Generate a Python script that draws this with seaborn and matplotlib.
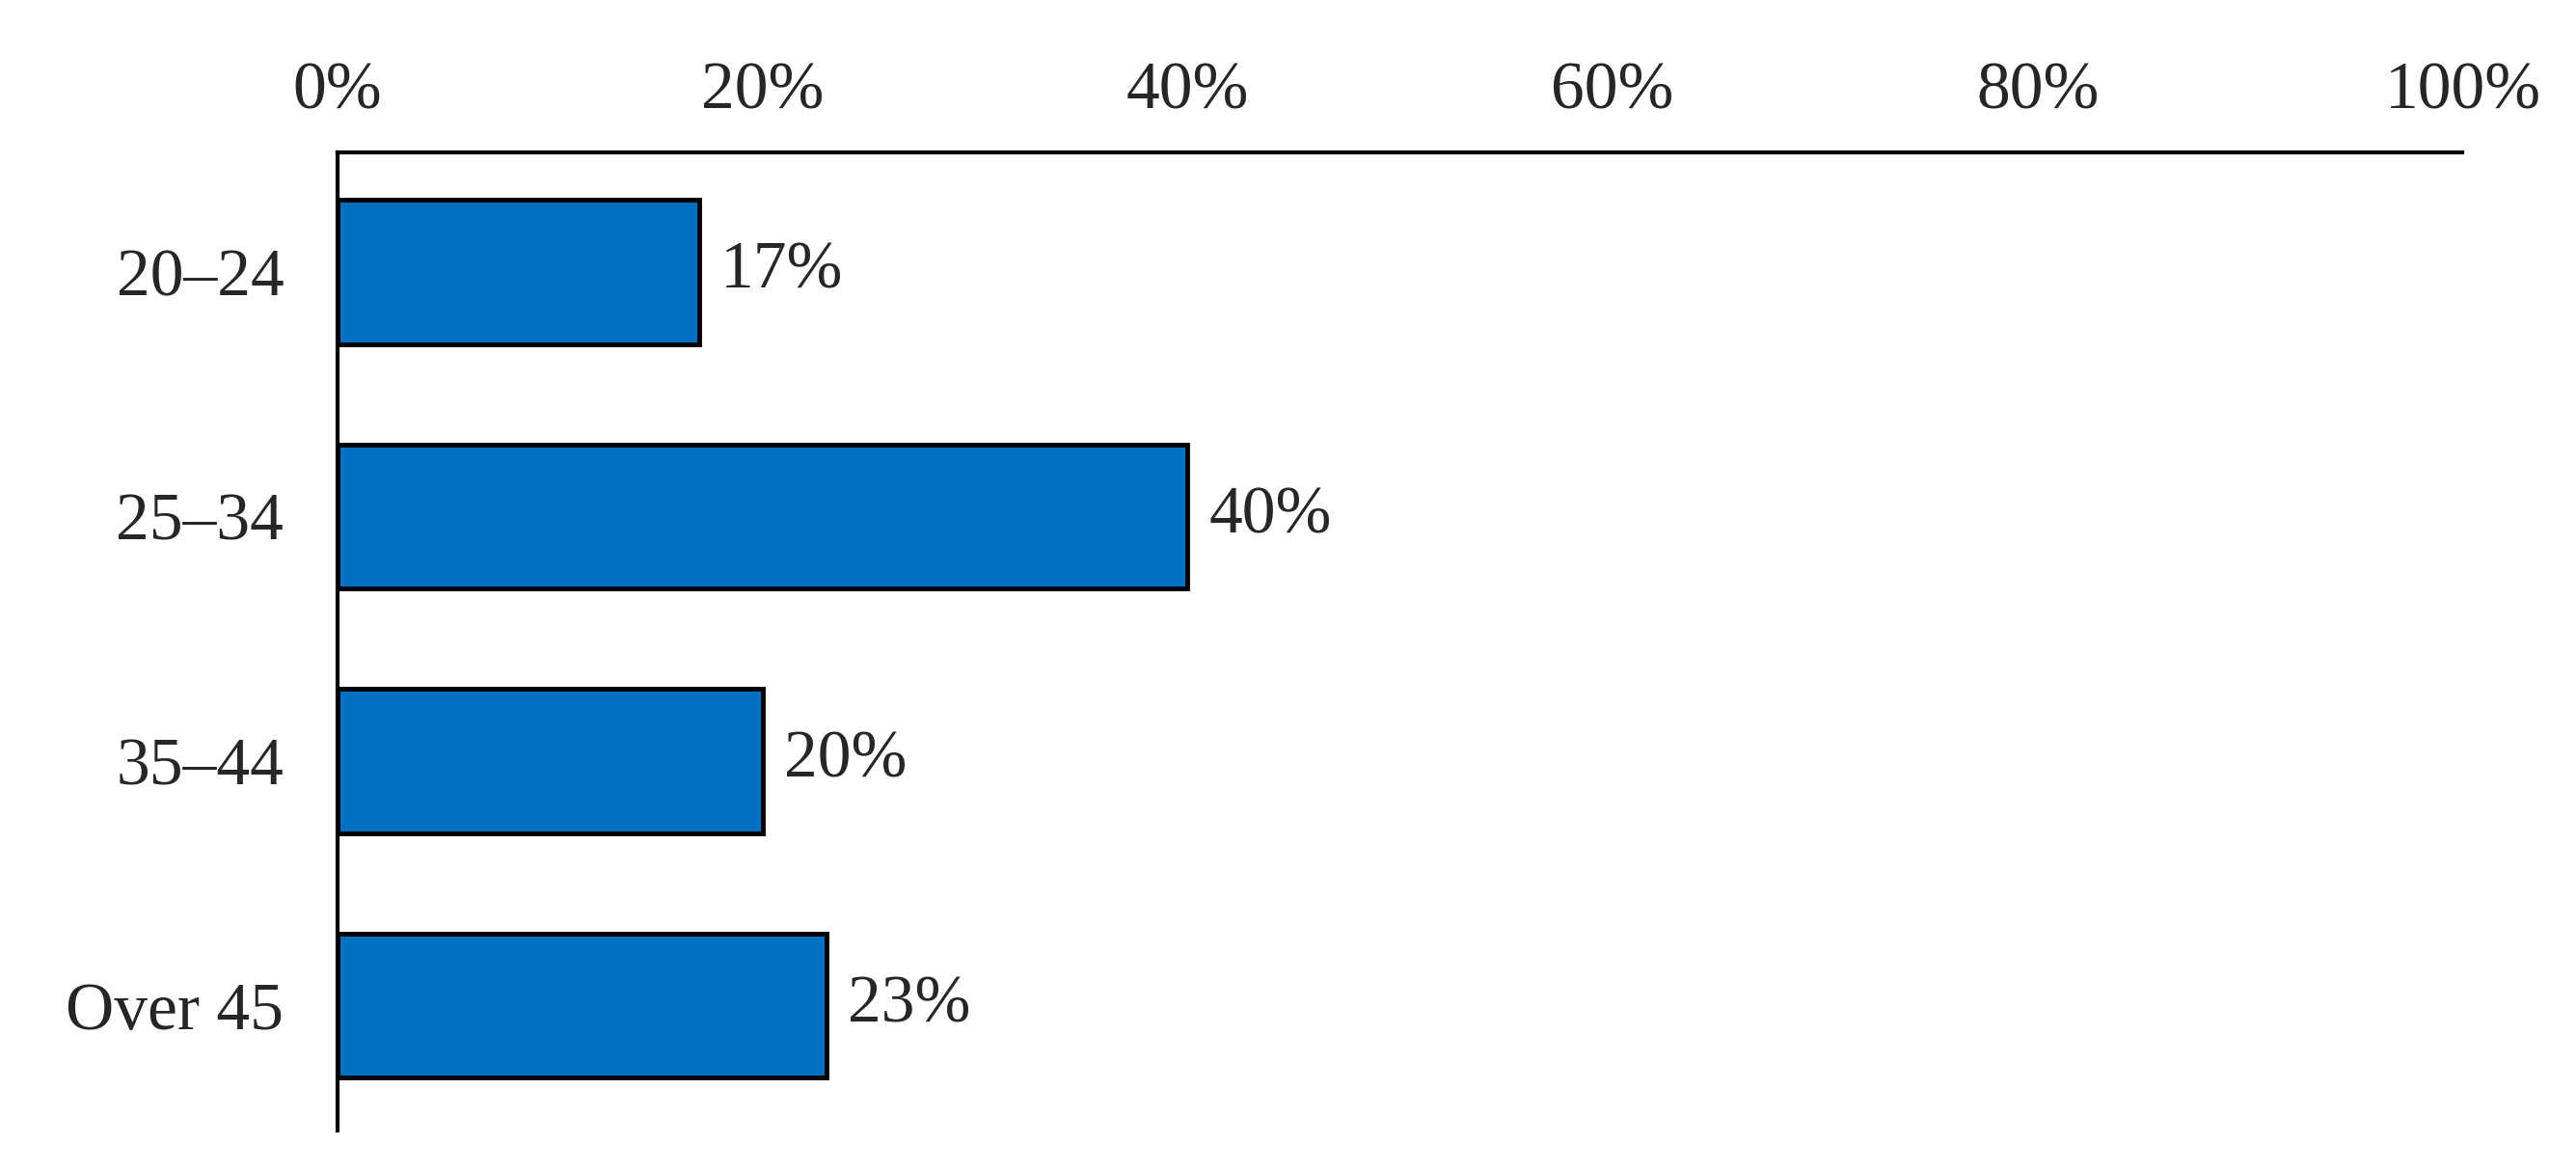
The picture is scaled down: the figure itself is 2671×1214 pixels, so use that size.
import pandas as pd
import seaborn as sns
import matplotlib.pyplot as plt
from matplotlib.ticker import PercentFormatter

age_groups = ["20\u201324", "25\u201334", "35\u201344", "Over 45"]
shares = [17, 40, 20, 23]

df = pd.DataFrame({"age": age_groups, "share": shares})

sns.set_style("white")
plt.rcParams["font.family"] = ["Liberation Serif", "DejaVu Serif"]

fig = plt.figure(figsize=(26.71, 12.14), dpi=100)
ax = fig.add_axes([0.131, 0.035, 0.825, 0.835])

sns.barplot(data=df, x="share", y="age", color="#0070C0", saturation=1,
            edgecolor="black", linewidth=3.5, width=0.59, ax=ax)

for i, v in enumerate(shares):
    ax.text(v + 1, i, f"{v}%", va="center", ha="left", fontsize=50)

ax.set_xlim(0, 100)
ax.set_ylim(3.51, -0.49)
ax.set_xticks([0, 20, 40, 60, 80, 100])
ax.xaxis.set_major_formatter(PercentFormatter(decimals=0))
ax.xaxis.tick_top()
ax.tick_params(axis="both", length=0, labelsize=50, pad=22)
ax.tick_params(axis="y", pad=40)
ax.set_xlabel("")
ax.set_ylabel("")
for side in ["right", "bottom"]:
    ax.spines[side].set_visible(False)
for side in ["left", "top"]:
    ax.spines[side].set_color("black")
    ax.spines[side].set_linewidth(3)

fig.savefig("out.png", dpi=100)
